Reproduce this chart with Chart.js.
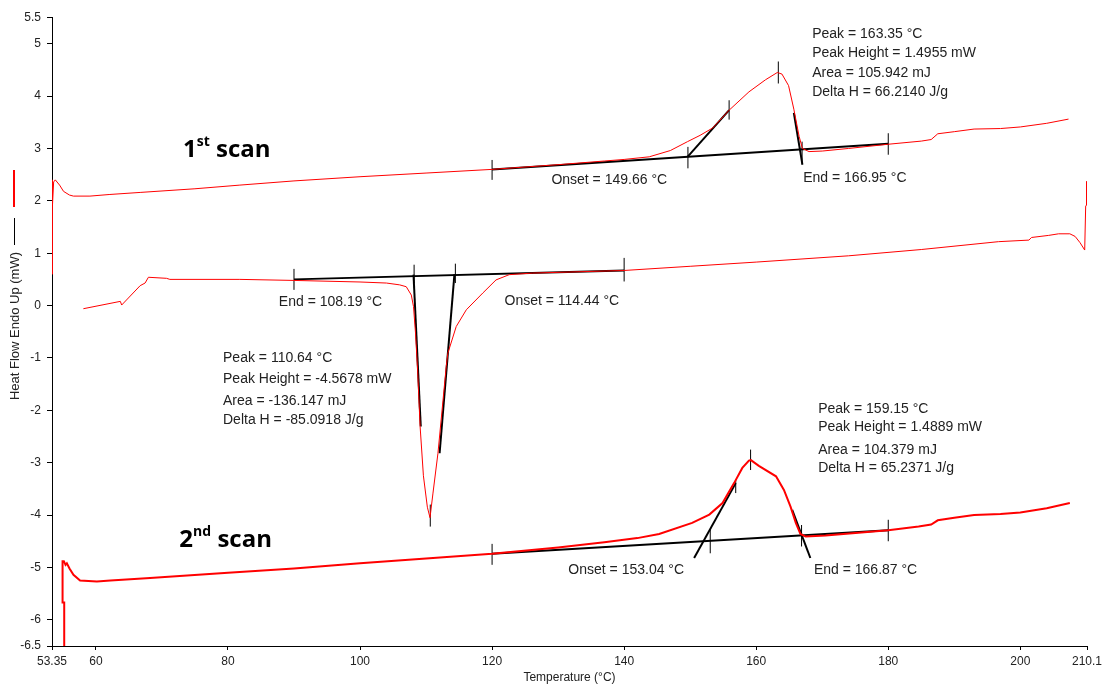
<!DOCTYPE html>
<html lang="en">
<head>
<meta charset="UTF-8">
<title>DSC Thermogram</title>
<script src="https://cdn.jsdelivr.net/npm/chart.js"></script>
<style>
  html, body { margin: 0; padding: 0; background: #fff; }
  canvas { display: block; }
</style>
</head>
<body>
<canvas id="dsc" width="1103" height="686"></canvas>
<script>
// [temperature °C, heat flow mW]
const scan1 = [
  [53.35,0.60],[53.35,2.38],[53.42,2.40],[53.50,1.92],[53.60,2.36],[53.85,2.40],[54.5,2.30],[55.1,2.18],
  [56.0,2.11],[56.6,2.09],[59.1,2.09],[62.0,2.12],[66.7,2.16],[75.0,2.23],[81.8,2.30],[90,2.38],[100,2.46],
  [110,2.53],[120,2.60],[130,2.69],[137,2.76],[140,2.79],[143.8,2.84],[147,2.96],[149.6,3.13],[151.5,3.25],
  [153.4,3.39],[155.9,3.73],[158.9,4.08],[161.4,4.31],[163.2,4.45],[163.9,4.42],[164.9,4.20],[165.7,3.75],
  [166.5,3.23],[167.0,3.00],[168.0,2.94],[170,2.95],[174,3.00],[180,3.08],[185,3.14],[186.5,3.17],
  [187.5,3.28],[190,3.32],[193,3.37],[197,3.38],[200,3.41],[204,3.48],[207.3,3.56]
];
const cooling = [
  [210.05,2.37],[210.05,1.92],[209.9,1.90],[209.75,1.06],[209.05,1.20],[208.3,1.32],[207.5,1.37],[205.8,1.37],
  [204.3,1.34],[201.7,1.30],[201.3,1.25],[196.7,1.22],[185,1.07],[174,0.95],[160,0.83],[150,0.75],[140,0.67],
  [126.1,0.62],[122.6,0.59],[120.6,0.49],[118.6,0.24],[116.1,-0.08],[114.57,-0.40],[113.3,-0.91],[113.06,-1.16],
  [111.8,-2.82],[111.05,-3.58],[110.6,-4.05],[110.2,-3.85],[109.6,-3.25],[109.1,-2.31],[108.72,-1.23],
  [108.4,-0.52],[108.1,-0.02],[107.77,0.20],[107.0,0.36],[106.0,0.395],[104,0.43],[100,0.45],[90,0.48],
  [81.8,0.50],[71.2,0.50],[70.7,0.52],[67.95,0.54],[67.45,0.43],[66.7,0.38],[63.9,0.01],[63.7,0.08],[58.1,-0.06]
];
const scan2 = [
  [55.3,-6.5],[55.2,-5.67],[54.95,-5.67],[54.95,-4.88],[55.15,-4.88],[55.4,-4.95],[55.6,-4.92],[56.0,-5.02],
  [56.6,-5.14],[57.6,-5.25],[60.15,-5.27],[62.2,-5.25],[68.2,-5.20],[80,-5.10],[90,-5.02],[100,-4.92],
  [110,-4.83],[120,-4.74],[130,-4.62],[137,-4.52],[142,-4.44],[145.3,-4.36],[150.3,-4.15],[152.9,-3.99],
  [154.9,-3.77],[156.65,-3.39],[157.9,-3.10],[158.9,-2.96],[159.2,-2.95],[160.4,-3.06],[163.0,-3.26],
  [164.2,-3.52],[165.2,-3.84],[166.0,-4.15],[166.7,-4.36],[167.5,-4.41],[170.5,-4.39],[180,-4.29],
  [184.6,-4.22],[186.5,-4.18],[187.5,-4.10],[190,-4.05],[193,-4.00],[197,-3.98],[200,-3.95],[204,-3.87],[207.5,-3.77]
];

// analysis lines: [x1, y1, x2, y2]
const baseLines = [[120,2.60,180,3.09],[90,0.50,140,0.67],[120,-4.74,180,-4.29]];
const tangents = [
  [149.6,2.84,155.9,3.73],[165.7,3.68,167.0,2.69],
  [108.1,0.59,109.2,-2.31],[114.3,0.60,112.05,-2.82],
  [150.6,-4.82,156.9,-3.39],[165.45,-3.90,168.2,-4.82]
];
// vertical markers: [x, yLow, yHigh]
const markers = [
  [120,2.40,2.78],[149.66,2.62,3.03],[155.9,3.55,3.92],[163.35,4.24,4.66],[166.95,2.69,3.13],[180,2.88,3.29],
  [90,0.30,0.70],[108.19,0.43,0.78],[114.44,0.43,0.80],[110.64,-4.22,-3.80],[140,0.46,0.91],
  [120,-4.95,-4.55],[153.04,-4.73,-4.28],[156.9,-3.58,-3.33],[159.15,-3.14,-2.75],[166.87,-4.60,-4.19],[180,-4.50,-4.09]
];

const xTicks = [53.35, 60, 80, 100, 120, 140, 160, 180, 200, 210.1];
const yTicks = [5.5, 5, 4, 3, 2, 1, 0, -1, -2, -3, -4, -5, -6, -6.5];

// text notes, anchored in data units (left edge, middle)
const notes = [
  ['Peak = 163.35 °C',168.48,5.185],['Peak Height = 1.4955 mW',168.48,4.828],
  ['Area = 105.942 mJ',168.48,4.435],['Delta H = 66.2140 J/g',168.48,4.084],
  ['Onset = 149.66 °C',128.98,2.40],['End = 166.95 °C',167.12,2.43],
  ['End = 108.19 °C',87.71,0.07],['Onset = 114.44 °C',121.88,0.076],
  ['Peak = 110.64 °C',79.25,-0.998],['Peak Height = -4.5678 mW',79.25,-1.40],
  ['Area = -136.147 mJ',79.25,-1.82],['Delta H = -85.0918 J/g',79.25,-2.18],
  ['Peak = 159.15 °C',169.39,-1.971],['Peak Height = 1.4889 mW',169.39,-2.32],
  ['Area = 104.379 mJ',169.39,-2.754],['Delta H = 65.2371 J/g',169.39,-3.103],
  ['Onset = 153.04 °C',131.55,-5.044],['End = 166.87 °C',168.74,-5.044]
];
const scanLabels = [['1','st',' scan',73.2,2.832],['2','nd',' scan',72.64,-4.611]];

const pts = a => a.map(([x, y]) => ({x, y}));
const seg = (x1, y1, x2, y2) => [{x: x1, y: y1}, {x: x2, y: y2}];
const line = (data, color, width) => ({
  data, borderColor: color, borderWidth: width, showLine: true,
  pointRadius: 0, pointHoverRadius: 0, fill: false, tension: 0
});

const datasets = [
  line(pts(scan1), '#ff0000', 1),
  line(pts(cooling), '#ff0000', 1),
  line(pts(scan2), '#ff0000', 2),
  ...baseLines.map(s => line(seg(...s), '#000', 2)),
  ...tangents.map(s => line(seg(...s), '#000', 2)),
  ...markers.map(([mx, lo, hi]) => line(seg(mx, lo, mx, hi), '#000', 1))
];

// notes + "1st scan"/"2nd scan"
const extras = {
  id: 'extras',
  afterDatasetsDraw(chart) {
    const {ctx, scales: {x, y}} = chart;
    ctx.save();
    ctx.fillStyle = '#222';
    ctx.font = '14px "Liberation Sans", Arial, sans-serif';
    ctx.textBaseline = 'middle';
    notes.forEach(([t, tx, ty]) => ctx.fillText(t, x.getPixelForValue(tx), y.getPixelForValue(ty)));

    ctx.fillStyle = '#000';
    ctx.textBaseline = 'alphabetic';
    scanLabels.forEach(([n, sup, rest, tx, ty]) => {
      let px = x.getPixelForValue(tx);
      const py = y.getPixelForValue(ty);
      ctx.font = 'bold 24px "Open Sans", sans-serif';
      ctx.fillText(n, px, py);
      px += ctx.measureText(n).width;
      ctx.font = 'bold 14px "Open Sans", sans-serif';
      ctx.fillText(sup, px, py - 11);
      px += ctx.measureText(sup).width;
      ctx.font = 'bold 24px "Open Sans", sans-serif';
      ctx.fillText(rest, px, py);
    });
    ctx.restore();
  },
  afterDraw(chart) {
    // y axis title with its line keys
    const ctx = chart.ctx;
    ctx.save();
    ctx.translate(15, 326);
    ctx.rotate(-Math.PI / 2);
    ctx.font = '13px "Liberation Sans", Arial, sans-serif';
    ctx.fillStyle = '#222';
    ctx.textAlign = 'center';
    ctx.textBaseline = 'middle';
    ctx.fillText('Heat Flow Endo Up (mW)', 0, 0);
    ctx.restore();
    ctx.save();
    ctx.strokeStyle = '#000';
    ctx.lineWidth = 1;
    ctx.beginPath(); ctx.moveTo(14.5, 218); ctx.lineTo(14.5, 245); ctx.stroke();
    ctx.strokeStyle = '#ff0000';
    ctx.lineWidth = 2;
    ctx.beginPath(); ctx.moveTo(14, 170); ctx.lineTo(14, 207); ctx.stroke();
    ctx.restore();
  }
};

const tickFont = {family: '"Liberation Sans", Arial, sans-serif', size: 12};

new Chart(document.getElementById('dsc'), {
  type: 'scatter',
  data: { datasets },
  options: {
    responsive: false,
    animation: false,
    events: [],
    layout: { padding: { top: 17.5, right: 16, left: 0, bottom: 0 } },
    plugins: { legend: { display: false }, tooltip: { enabled: false } },
    scales: {
      x: {
        type: 'linear', min: 53.35, max: 210.1,
        afterBuildTicks: s => { s.ticks = xTicks.map(v => ({value: v})); },
        afterFit: s => { s.height = 40; s.paddingLeft = 0; s.paddingRight = 0; },
        ticks: { autoSkip: false, maxRotation: 0, padding: 4, color: '#222', font: tickFont, callback: v => String(v) },
        grid: { drawOnChartArea: false, drawTicks: true, tickLength: 4, color: '#000' },
        border: { color: '#000', width: 1 },
        title: { display: true, text: 'Temperature (°C)', color: '#222', font: tickFont, padding: {top: 0, bottom: 1} }
      },
      y: {
        type: 'linear', min: -6.5, max: 5.5,
        afterBuildTicks: s => { s.ticks = yTicks.map(v => ({value: v})); },
        afterFit: s => { s.width = 52; s.paddingTop = 0; s.paddingBottom = 0; },
        ticks: { autoSkip: false, padding: 6, color: '#222', font: tickFont, callback: v => String(v) },
        grid: { drawOnChartArea: false, drawTicks: true, tickLength: 5, color: '#000' },
        border: { color: '#000', width: 1 }
      }
    }
  },
  plugins: [extras]
});
</script>
</body>
</html>
